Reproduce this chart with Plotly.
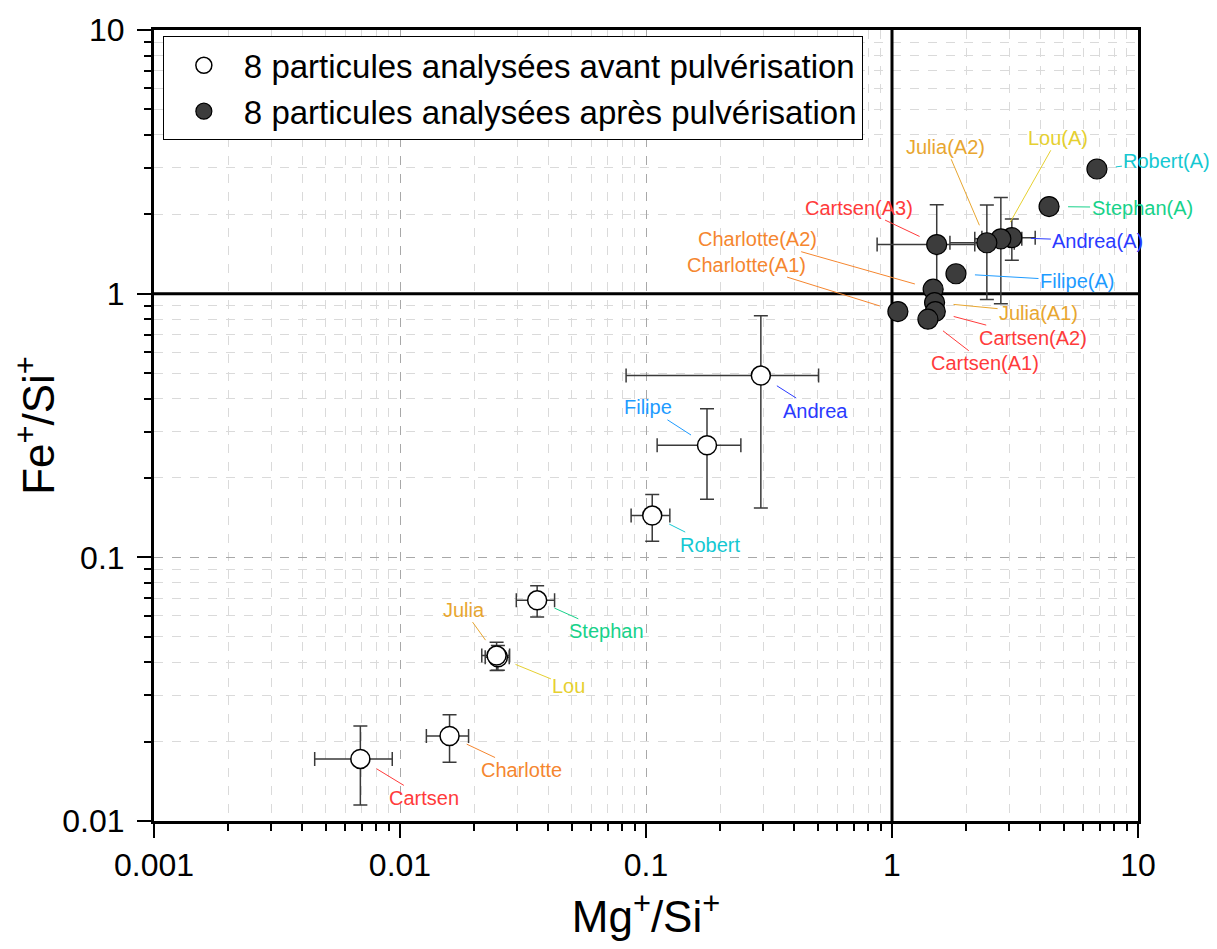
import numpy as np
import plotly.graph_objects as go

# ---------------- data ----------------
# before pulverisation (open circles)
names_before = ["Cartsen", "Charlotte", "Lou", "Julia", "Stephan", "Robert", "Filipe", "Andrea"]
mg_before = [0.0069, 0.0159, 0.0250, 0.0247, 0.0361, 0.106, 0.177, 0.293]
fe_before = [0.0172, 0.0210, 0.0418, 0.0424, 0.0687, 0.144, 0.266, 0.489]
mg_err_before = [0.0024, 0.0031, 0.0028, 0.0032, 0.0064, 0.019, 0.066, 0.21]
fe_err_before = [0.0057, 0.0043, 0.0045, 0.0052, 0.0093, 0.029, 0.10, 0.335]

# after pulverisation (filled circles)
names_after = ["Robert(A)", "Stephan(A)", "Andrea(A)", "Lou(A)", "Julia(A2)", "Cartsen(A3)",
               "Filipe(A)", "Charlotte(A2)", "Charlotte(A1)", "Julia(A1)", "Cartsen(A2)", "Cartsen(A1)"]
mg_after = [6.81, 4.35, 3.07, 2.77, 2.43, 1.52, 1.82, 1.47, 1.057, 1.49, 1.50, 1.40]
fe_after = [2.97, 2.14, 1.63, 1.615, 1.56, 1.535, 1.19, 1.04, 0.855, 0.925, 0.855, 0.80]
mg_err_after = [0.05, 0.05, 0.75, 0.60, 0.71, 0.65, 0.04, 0.04, 0.03, 0.04, 0.04, 0.04]
fe_err_after = [0.04, 0.04, 0.29, 0.70, 0.61, 0.64, 0.03, 0.05, 0.03, 0.05, 0.05, 0.04]

legend_before = "8 particules analysées avant pulvérisation"
legend_after = "8 particules analysées après pulvérisation"

x_tick_vals = [0.001, 0.01, 0.1, 1, 10]
x_tick_text = ["0.001", "0.01", "0.1", "1", "10"]
y_tick_vals = [0.01, 0.1, 1, 10]
y_tick_text = ["0.01", "0.1", "1", "10"]

# ---------------- styles ----------------
label_colors = {
    "Cartsen": "#ff3b3b", "Charlotte": "#f5862f", "Julia": "#e8a630", "Lou": "#e6d030",
    "Stephan": "#17d28a", "Robert": "#14c8d2", "Filipe": "#1e9bff", "Andrea": "#2a3aff",
}
# label offsets (px) of text centre relative to the point
offs_before = {
    "Cartsen": (64, 39), "Charlotte": (72, 34), "Lou": (71, 29), "Julia": (-33, -46),
    "Stephan": (69, 31), "Robert": (58, 29), "Filipe": (-59, -38), "Andrea": (55, 35),
}
offs_after = {
    "Robert(A)": (70, -8), "Stephan(A)": (93, 1), "Andrea(A)": (86, 3), "Lou(A)": (57, -101),
    "Julia(A2)": (-41, -96), "Cartsen(A3)": (-78, -37), "Filipe(A)": (121, 7),
    "Charlotte(A2)": (-176, -50), "Charlotte(A1)": (-151, -47), "Julia(A1)": (104, 10),
    "Cartsen(A2)": (98, 26), "Cartsen(A1)": (57, 44),
}

FONT = "Liberation Sans, Arial, sans-serif"
fig = go.Figure()

# reference lines at 1
fig.add_trace(go.Scatter(x=[1, 1], y=[0.01, 10], mode="lines", line=dict(color="black", width=3),
                         showlegend=False, hoverinfo="skip"))
fig.add_trace(go.Scatter(x=[0.001, 10], y=[1, 1], mode="lines", line=dict(color="black", width=3),
                         showlegend=False, hoverinfo="skip"))

err_style = dict(type="data", color="#3a3a3a", thickness=1.5, width=7)

fig.add_trace(go.Scatter(
    x=mg_before, y=fe_before, mode="markers", name=legend_before,
    error_x=dict(array=mg_err_before, **err_style),
    error_y=dict(array=fe_err_before, **err_style),
    marker=dict(symbol="circle", size=19, color="white", line=dict(color="black", width=1.5)),
))
fig.add_trace(go.Scatter(
    x=mg_after, y=fe_after, mode="markers", name=legend_after,
    error_x=dict(array=mg_err_after, **err_style),
    error_y=dict(array=fe_err_after, **err_style),
    marker=dict(symbol="circle", size=20, color="#3c3c3c", line=dict(color="black", width=1.2)),
))

annotations = []
def add_labels(names, xs, ys, offs):
    for n, xv, yv in zip(names, xs, ys):
        base = n.split("(")[0]
        c = label_colors[base]
        ax, ay = offs[n]
        annotations.append(dict(
            x=np.log10(xv), y=np.log10(yv), xref="x", yref="y", text=n,
            showarrow=True, arrowhead=0, arrowwidth=1, arrowcolor=c, ax=ax, ay=ay,
            standoff=19, font=dict(family=FONT, size=20, color=c),
        ))

add_labels(names_before, mg_before, fe_before, offs_before)
add_labels(names_after, mg_after, fe_after, offs_after)

axis_common = dict(
    type="log", showline=True, linewidth=3, linecolor="black", mirror=True,
    ticks="outside", ticklen=14, tickwidth=2, tickcolor="black", automargin=False,
    showgrid=True, gridcolor="#a8a8a8", griddash="dash", gridwidth=1,
    tickfont=dict(family=FONT, size=32, color="black"),
    minor=dict(dtick="D1", ticks="outside", ticklen=7, tickwidth=2, tickcolor="black",
               showgrid=True, gridcolor="#dadada", griddash="dash", gridwidth=1),
    zeroline=False,
)

fig.update_layout(
    width=1209, height=933,
    margin=dict(l=146, r=79, t=22, b=120, autoexpand=False),
    plot_bgcolor="white", paper_bgcolor="white",
    font=dict(family=FONT, color="black"),
    xaxis=dict(range=[-3, 1], tickmode="array", tickvals=x_tick_vals, ticktext=x_tick_text,
               ticklabelstandoff=0,
               title=dict(text="Mg<sup>+</sup>/Si<sup>+</sup>", font=dict(family=FONT, size=44), standoff=40),
               **axis_common),
    yaxis=dict(range=[-2, 1], tickmode="array", tickvals=y_tick_vals, ticktext=y_tick_text,
               ticklabelstandoff=6,
               title=dict(text="Fe<sup>+</sup>/Si<sup>+</sup>", font=dict(family=FONT, size=44), standoff=22),
               **axis_common),
    legend=dict(x=0.009, y=0.992, xanchor="left", yanchor="top", bgcolor="white",
                bordercolor="black", borderwidth=1, font=dict(family=FONT, size=33),
                itemsizing="trace", itemwidth=70, tracegroupgap=0),
    annotations=annotations,
    showlegend=True,
)

fig.write_html("out.html")
